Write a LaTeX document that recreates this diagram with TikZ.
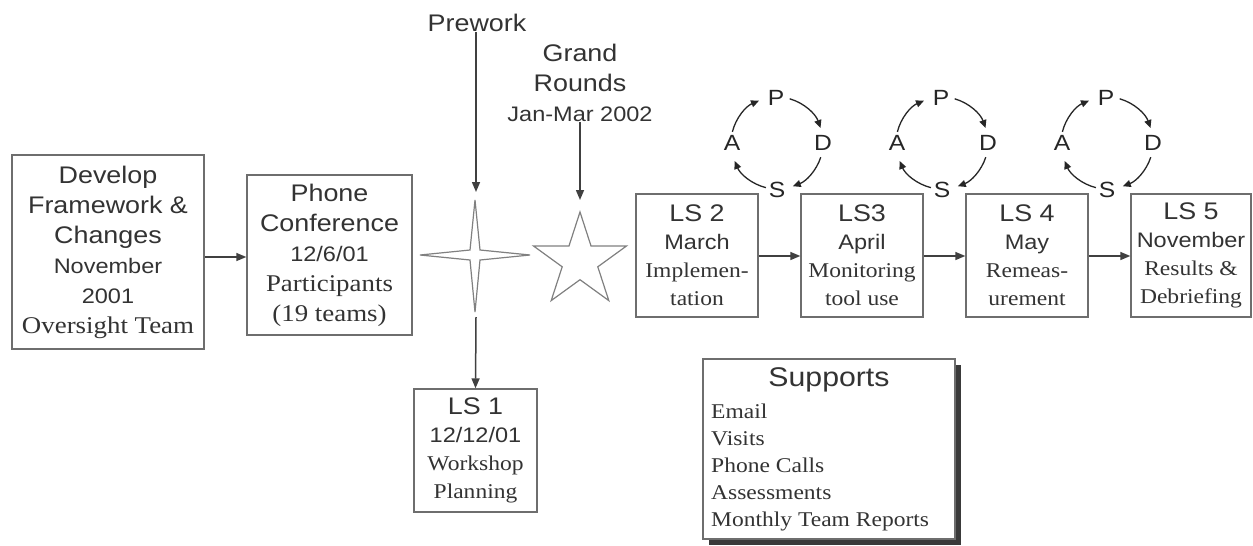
\documentclass[tikz,border=0pt]{standalone}
\usepackage{fontspec}
\setmainfont{Liberation Serif}[FakeStretch=1.12]
\setsansfont{Liberation Sans}[FakeStretch=1.12]
\usetikzlibrary{arrows.meta,calc}
\definecolor{boxc}{HTML}{6E6E6E}
\definecolor{linec}{HTML}{404040}
\definecolor{txtc}{HTML}{333333}
\definecolor{starc}{HTML}{808080}
\definecolor{shadc}{HTML}{3A3A3A}
\newcommand\tHS{\sffamily\fontsize{24}{30}\selectfont}
\newcommand\tMS{\sffamily\fontsize{21}{28}\selectfont}
\newcommand\tBR{\rmfamily\fontsize{24}{30}\selectfont}
\newcommand\tMR{\rmfamily\fontsize{21}{28}\selectfont}
\tikzset{
  box/.style={draw=boxc, line width=1.4pt, fill=white, inner sep=0pt, align=center, text=txtc},
  arr/.style={draw=linec, line width=1.5pt, -{Triangle[length=10pt,width=8pt]}},
  parr/.style={draw=black!85, line width=1.3pt, -{Triangle[length=8pt,width=7pt]}},
  lbl/.style={inner sep=0pt, align=center, text=txtc},
  pdsa/.style={inner sep=0pt, text=black!85, font=\sffamily\fontsize{22}{24}\selectfont},
  starline/.style={draw=starc, line width=1.2pt, line join=miter}
}
\begin{document}
\begin{tikzpicture}[x=1pt,y=-1pt]
\useasboundingbox (0,0) rectangle (1253,546);
\fill[white] (0,0) rectangle (1253,546);

% main boxes
\node[box, minimum width=192pt, minimum height=194pt, font=\fontsize{24}{30}\selectfont] (dev) at (108,252)
  {\tHS Develop\\ \tHS Framework \&\\ \tHS Changes\\ \tMS November\\ \tMS 2001\\ \tBR Oversight Team};
\node[box, minimum width=165pt, minimum height=160pt, font=\fontsize{24}{30}\selectfont] (phone) at (329.5,255)
  {\tHS Phone\\ \tHS Conference\\ \tMS 12/6/01\\ \tBR Participants\\ \tBR (19 teams)};
\node[box, minimum width=123pt, minimum height=123pt, font=\fontsize{21}{28}\selectfont] (ls1) at (475.5,450.5)
  {\tHS LS 1\\ \tMS 12/12/01\\ \tMR Workshop\\ \tMR Planning};
\node[box, minimum width=122pt, minimum height=123pt, font=\fontsize{21}{28}\selectfont] (ls2) at (697,255.5)
  {\tHS LS 2\\ \tMS March\\ \tMR Implemen-\\ \tMR tation};
\node[box, minimum width=122pt, minimum height=123pt, font=\fontsize{21}{28}\selectfont] (ls3) at (862,255.5)
  {\tHS LS3\\ \tMS April\\ \tMR Monitoring\\ \tMR tool use};
\node[box, minimum width=122pt, minimum height=123pt, font=\fontsize{21}{28}\selectfont] (ls4) at (1027,255.5)
  {\tHS LS 4\\ \tMS May\\ \tMR Remeas-\\ \tMR urement};
\node[box, minimum width=120pt, minimum height=123pt, font=\fontsize{21}{28}\selectfont] (ls5) at (1191,255.5)
  {\tHS LS 5\\ \tMS November\\ \tMR Results \&\\ \tMR Debriefing};

% supports box with shadow
\fill[shadc] (709,365) rectangle (961,545);
\node[box, minimum width=252pt, minimum height=180pt] (sup) at (829,449) {};
\node[lbl, font=\sffamily\fontsize{27}{30}\selectfont] (suptitle) at (829,380) {Supports};
\node[lbl, align=left, anchor=west, font=\rmfamily\fontsize{21}{27}\selectfont] (suplist) at (711,467)
  {Email\\ Visits\\ Phone Calls\\ Assessments\\ Monthly Team Reports};

% four-point star
\draw[starline] (475,200) -- (480,250) -- (530,255) -- (480,260) -- (475,312) -- (470,260) -- (420,255) -- (470,250) -- cycle;
\coordinate (s4top) at (476,192);
\coordinate (s4bot) at (476,317);

% five-point star
\draw[starline] (580,212) -- (591,245.9) -- (626.6,245.9) -- (597.8,266.8) -- (608.8,300.6) -- (580,279.7)
  -- (551.2,300.6) -- (562.2,266.8) -- (533.4,245.9) -- (569,245.9) -- cycle;
\coordinate (s5top) at (580,200);

% labels above
\node[lbl, font=\sffamily\fontsize{24}{30}\selectfont] (prew) at (477,23) {Prework};
\node[lbl, font=\sffamily\fontsize{24}{30}\selectfont] (grand) at (580,83)
  {\tHS Grand\\ \tHS Rounds\\ \tMS Jan-Mar 2002};

% connectors
\draw[arr] (dev.east |- 0,257) -- (phone.west |- 0,257);
\draw[arr] (prew.south -| s4top) -- (s4top);
\draw[arr] (s4bot) -- (ls1.north);
\draw[arr] (grand.south -| s5top) -- (s5top);
\draw[arr] (ls2.east |- 0,256) -- (ls3.west |- 0,256);
\draw[arr] (ls3.east |- 0,256) -- (ls4.west |- 0,256);
\draw[arr] (ls4.east |- 0,256) -- (ls5.west |- 0,256);

% PDSA cycles
\foreach \i/\cx in {1/777,2/942,3/1107}{
  \coordinate (c\i) at (\cx,143);
  \node[pdsa] (P\i) at (\cx-1,98) {P};
  \node[pdsa] (D\i) at (\cx+46,143) {D};
  \node[pdsa] (S\i) at (\cx,190) {S};
  \node[pdsa] (A\i) at (\cx-45,143) {A};
  \draw[parr] ($(c\i)+(-166:46)$) arc[start angle=-166, end angle=-113, radius=46];
  \draw[parr] ($(c\i)+(-74:46)$) arc[start angle=-74, end angle=-19, radius=46];
  \draw[parr] ($(c\i)+(18:46)$) arc[start angle=18, end angle=70, radius=46];
  \draw[parr] ($(c\i)+(104:46)$) arc[start angle=104, end angle=157, radius=46];
}
\end{tikzpicture}
\end{document}
